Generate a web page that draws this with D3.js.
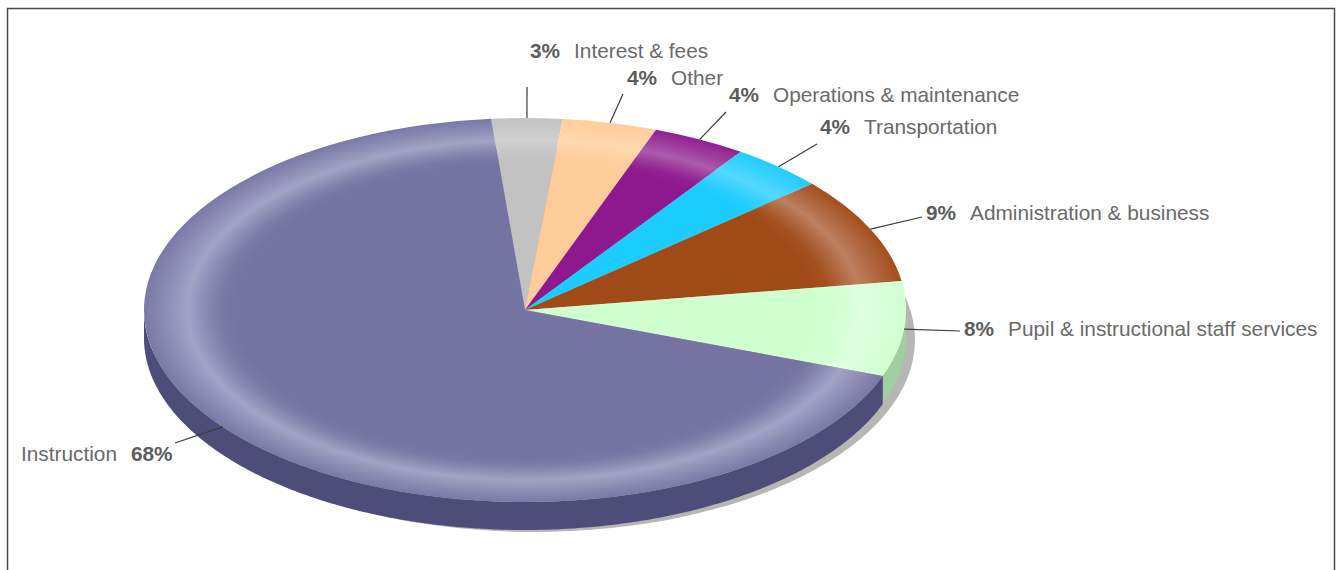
<!DOCTYPE html>
<html>
<head>
<meta charset="utf-8">
<script src="https://cdn.jsdelivr.net/npm/d3@7/dist/d3.min.js"></script>
<style>
  html, body { margin: 0; padding: 0; background: #fff; }
  svg { display: block; }
  text { font-family: "Liberation Sans", Arial, sans-serif; font-size: 20.8px; fill: #6a6a6a; }
  .pct { font-weight: bold; fill: #5c5c5c; }
</style>
</head>
<body>
<div id="chart"></div>
<script>
// Budget shares, clockwise from just left of twelve o'clock
const categories = ["Interest & fees", "Other", "Operations & maintenance", "Transportation",
                    "Administration & business", "Pupil & instructional staff services", "Instruction"];
const shares = [3, 4, 4, 4, 9, 8, 68];

const topColors   = ["#c2c2c2", "#ffcc99", "#8e188e", "#1ccbff", "#a04a17", "#cfffcf", "#7573a2"];
const rimColors   = ["#d0d0d0", "#ffd8b0", "#ab5cab", "#55d8ff", "#bd8060", "#dfffdf", "#a3a3c6"];
const wallColors  = ["#8c8c8c", "#c09a70", "#5e105e", "#1390b8", "#70330f", "#9fcfa0", "#4e4d79"];

// Label anchor and leader end, in page pixels, one per category
const labelX   = [530, 627, 729, 820, 926, 964, 21];
const labelY   = [58, 85, 102, 134, 220, 336, 461];
const leaderX  = [527, 623, 726, 817, 922, 960, 175];
const leaderY  = [87, 94, 112, 144, 217, 331, 443];

const width = 1338, height = 570;
const cx = 525, cy = 310, rx = 381, ry = 192, depth = 28;
const startDeg = -5.1;
// Bevel profile along the radius: eased in toward the highlight, fading at the edge
const rimStops = [[0, 0], [0.76, 0], [0.80, 0.12], [0.84, 0.5], [0.885, 1], [0.93, 0.62], [1, 0.1]];

const svg = d3.select("#chart").append("svg").attr("width", width).attr("height", height);
const defs = svg.append("defs");

svg.append("rect")
  .attr("x", 7.5).attr("y", 8.5).attr("width", 1327).attr("height", height)
  .attr("fill", "#fff").attr("stroke", "#4a4a4a").attr("stroke-width", 1.5);

const slices = d3.pie().sort(null).value(d => d)
  .startAngle(startDeg * Math.PI / 180)
  .endAngle(startDeg * Math.PI / 180 + 2 * Math.PI)(shares);

const onRim = (a, dy = 0) => [cx + rx * Math.sin(a), cy - ry * Math.cos(a) + dy];

// Cast shadow sits behind the extruded wall, only its lower right shows
defs.append("filter").attr("id", "soft").append("feGaussianBlur").attr("stdDeviation", 0.6);
svg.append("ellipse")
  .attr("cx", cx + 9).attr("cy", cy + 30).attr("rx", rx).attr("ry", ry)
  .attr("fill", "#b6b6b4").attr("filter", "url(#soft)");

// Side wall: the front half of each slice pushed down by the pie's depth
const edge = d3.line();
slices.forEach((s, i) => {
  const a0 = Math.max(s.startAngle, Math.PI / 2);
  const a1 = Math.min(s.endAngle, 3 * Math.PI / 2);
  if (a1 <= a0) return;
  const arcAngles = d3.range(a0, a1, 0.01).concat([a1]);
  const outline = arcAngles.map(a => onRim(a))
    .concat(arcAngles.slice().reverse().map(a => onRim(a, depth)));
  svg.append("path").attr("d", edge(outline) + "Z").attr("fill", wallColors[i]);
});

// Top face: circular arcs squashed into an ellipse, each with a bevelled rim
const arc = d3.arc().innerRadius(0).outerRadius(rx);
const face = svg.append("g").attr("transform", `translate(${cx},${cy}) scale(1,${ry / rx})`);
slices.forEach((s, i) => {
  const grad = defs.append("radialGradient")
    .attr("id", "rim" + i).attr("gradientUnits", "userSpaceOnUse")
    .attr("cx", 0).attr("cy", 0).attr("r", rx);
  const mix = d3.interpolateRgb(topColors[i], rimColors[i]);
  rimStops.forEach(([offset, t]) => {
    grad.append("stop").attr("offset", offset).attr("stop-color", mix(t));
  });
  face.append("path").attr("d", arc(s)).attr("fill", `url(#rim${i})`);
});

// Leader lines run from the middle of each slice's outer edge
slices.forEach((s, i) => {
  const [x, y] = onRim((s.startAngle + s.endAngle) / 2);
  svg.append("line")
    .attr("x1", x).attr("y1", y).attr("x2", leaderX[i]).attr("y2", leaderY[i])
    .attr("stroke", "#3c3c3c").attr("stroke-width", 1.2);
});

// Labels: percent then name, reversed for the slice on the left
categories.forEach((name, i) => {
  const t = svg.append("text").attr("x", labelX[i]).attr("y", labelY[i]);
  const pct = shares[i] + "%";
  if (name === "Instruction") {
    t.append("tspan").text(name);
    t.append("tspan").attr("class", "pct").attr("dx", 14).text(pct);
  } else {
    t.append("tspan").attr("class", "pct").text(pct);
    t.append("tspan").attr("dx", 14).text(name);
  }
});
</script>
</body>
</html>
